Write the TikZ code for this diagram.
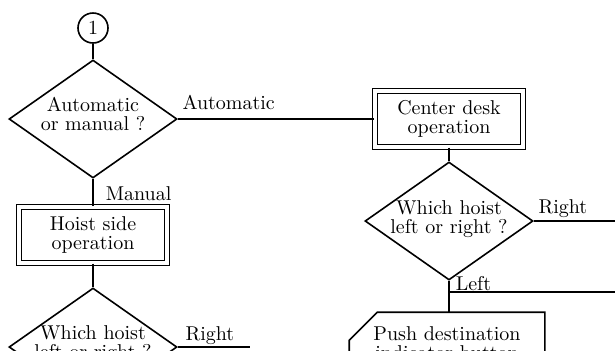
\documentclass[tikz,border=0pt]{standalone}
\usetikzlibrary{shapes.geometric}
\begin{document}
\begin{tikzpicture}[x=0.5pt, y=-0.5pt, line width=0.8pt,
		every node/.style={font=\fontsize{10}{9.5}\selectfont},
		decision/.style={draw, diamond, minimum width=84pt, minimum height=59pt, inner sep=0pt},
		opbox/.style={draw, double, double distance=2pt, line width=0.7pt, minimum width=74pt, minimum height=28pt, align=center},
		txt/.style={align=center, inner sep=0pt},
		lbl/.style={inner sep=0pt, anchor=base west}]
	\useasboundingbox (0,0) rectangle (615,350);
	\clip (0,0) rectangle (615,350);
	\node[draw, circle, minimum size=15pt, inner sep=0pt] (one) at (93,28) {1};
	\node[decision] (automan) at (93,119) {};
	\node[txt] (automantxt) at (93,114) {Automatic\\or manual ?};
	\node[opbox] (centerdesk) at (449,119) {Center desk\\operation};
	\node[decision] (whichc) at (449,221) {};
	\node[txt] (whichctxt) at (449,219) {Which hoist\\left or right ?};
	\node[inner sep=0pt, minimum width=97pt, minimum height=30pt, align=center] (push) at (447,343) {Push destination\\indicator button};
	\node[opbox] (hoistside) at (93,235) {Hoist side\\operation};
	\node[decision] (whichh) at (93,347) {};
	\node[txt] (whichhtxt) at (93,344) {Which hoist\\left or right ?};
	\coordinate (rightend) at (615,221);
	\coordinate (leftend) at (615,292);
	\coordinate (hrightend) at (250,347);
	\draw (one.south) -- (automan.north);
	\draw (automan.east) -- (automan.east -| centerdesk.west);
	\draw (centerdesk.south) -- (whichc.north);
	\draw (whichc.east) -- (rightend);
	\draw (whichc.south) -- (whichc.south |- push.north);
	\draw (leftend -| whichc.south) -- (leftend);
	\draw ([xshift=14pt]push.north west) -- (push.north east) -- (push.south east) -- (push.south west) -- ([yshift=-14pt]push.north west) -- cycle;
	\draw (automan.south) -- (hoistside.north);
	\draw (hoistside.south) -- (whichh.north);
	\draw (whichh.east) -- (hrightend);
	\node[lbl] (lautomatic) at ([xshift=2pt, yshift=5pt]automan.east) {Automatic};
	\node[lbl] (lmanual) at ([xshift=6pt, yshift=3pt]hoistside.north) {Manual};
	\node[lbl] (lcright) at ([xshift=2pt, yshift=4pt]whichc.east) {Right};
	\node[lbl] (lleft) at ([xshift=3pt, yshift=1pt]leftend -| whichc.south) {Left};
	\node[lbl] (lhright) at ([xshift=3.5pt, yshift=3.5pt]whichh.east) {Right};
\end{tikzpicture}
\end{document}
